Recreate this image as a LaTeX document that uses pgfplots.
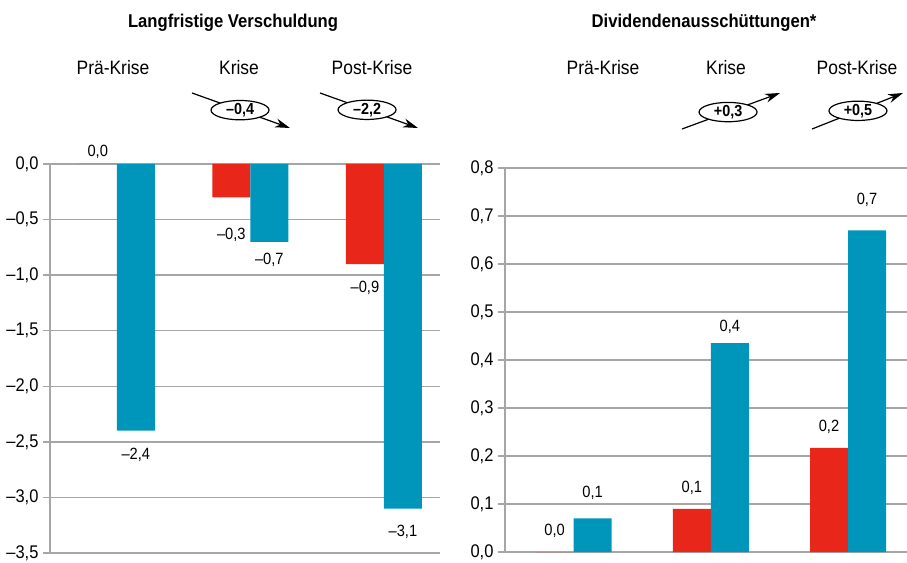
\documentclass[border=0pt]{standalone}
\usepackage{pgfplots}
\pgfplotsset{compat=1.18}
\usepackage{fontspec}
\setmainfont{Liberation Sans}[FakeStretch=0.9]
\usetikzlibrary{arrows.meta,shapes.geometric}
\definecolor{cred}{HTML}{E8261A}
\definecolor{cblue}{HTML}{0095BB}
\definecolor{cgrid}{HTML}{A6A6A6}
\tikzset{lbl/.style={font=\fontsize{16.3}{18}\selectfont, inner sep=0pt}}
\begin{document}
\begin{tikzpicture}
\useasboundingbox (0pt,0pt) rectangle (907pt,562pt);
\pgfplotsset{
 myax/.style={scale only axis, ybar=0pt, bar width=38pt,
  ymajorgrids, grid style={cgrid, line width=1.3pt},
  axis x line=none, axis y line*=left,
  y axis line style={cgrid, line width=1.3pt, -},
  ytick style={cgrid, line width=1.3pt},
  tick align=outside, major tick length=7pt,
  xmin=-0.5, xtick=\empty,
  yticklabel style={font=\fontsize{18.3}{20}\selectfont, xshift=-1pt},
  clip=false}
}
\begin{axis}[myax, at={(50pt,9pt)}, anchor=south west, width=390pt, height=389pt,
  xmax=2.42, ymin=-3.5, ymax=0,
  ytick={-3.5,-3,-2.5,-2,-1.5,-1,-0.5,0},
  yticklabels={{–3,5},{–3,0},{–2,5},{–2,0},{–1,5},{–1,0},{–0,5},{0,0}}]
\addplot[fill=cred, draw=none] coordinates {(0,0) (1,-0.3) (2,-0.9)};
\addplot[fill=cblue, draw=none] coordinates {(0,-2.4) (1,-0.7) (2,-3.1)};
\node[lbl, xshift=-19pt] at (axis cs:0,0.108) {0,0};
\node[lbl, xshift=19pt] at (axis cs:0,-2.62) {–2,4};
\node[lbl, xshift=-19pt] at (axis cs:1,-0.64) {–0,3};
\node[lbl, xshift=19pt] at (axis cs:1,-0.864) {–0,7};
\node[lbl, xshift=-19pt] at (axis cs:2,-1.116) {–0,9};
\node[lbl, xshift=19pt] at (axis cs:2,-3.31) {–3,1};
\end{axis}
\begin{axis}[myax, at={(505pt,10pt)}, anchor=south west, width=402pt, height=384pt,
  xmax=2.43, ymin=0, ymax=0.8,
  ytick={0,0.1,0.2,0.3,0.4,0.5,0.6,0.7,0.8},
  yticklabels={{0,0},{0,1},{0,2},{0,3},{0,4},{0,5},{0,6},{0,7},{0,8}}]
\addplot[fill=cred, draw=none] coordinates {(0,0) (1,0.09) (2,0.217)};
\addplot[fill=cblue, draw=none] coordinates {(0,0.07) (1,0.435) (2,0.67)};
\node[lbl, xshift=-19pt] at (axis cs:0,0.044) {0,0};
\node[lbl, xshift=19pt] at (axis cs:0,0.123) {0,1};
\node[lbl, xshift=-19pt] at (axis cs:1,0.133) {0,1};
\node[lbl, xshift=19pt] at (axis cs:1,0.469) {0,4};
\node[lbl, xshift=-19pt] at (axis cs:2,0.26) {0,2};
\node[lbl, xshift=19pt] at (axis cs:2,0.733) {0,7};
\end{axis}
\begin{scope}[x=1pt,y=1pt]
\tikzset{ttl/.style={font=\bfseries\fontsize{18.5}{20}\selectfont, anchor=base, inner sep=0pt},
 cat/.style={font=\fontsize{19.4}{21}\selectfont, anchor=base, inner sep=0pt},
 arr/.style={line width=1.2pt, -{Stealth[length=15pt,width=9pt]}},
 ell/.style={draw, ellipse, fill=white, line width=1.2pt, minimum width=58pt, minimum height=18pt, inner sep=0pt, font=\bfseries\fontsize{16}{17}\selectfont}}
\node[ttl] at (233,534) {Langfristige Verschuldung};
\node[ttl] at (704,534) {Dividendenausschüttungen*};
\node[cat] at (113,487) {Prä-Krise};
\node[cat] at (239,487) {Krise};
\node[cat] at (372,487) {Post-Krise};
\node[cat] at (603,487) {Prä-Krise};
\node[cat] at (726,487) {Krise};
\node[cat] at (857,487) {Post-Krise};
\draw[arr] (192,469) -- (290,434) node[ell, pos=0.49] {–0,4};
\draw[arr] (320,469) -- (418,434) node[ell, pos=0.48] {–2,2};
\draw[arr] (682,433) -- (780,469) node[ell, pos=0.47] {+0,3};
\draw[arr] (812,433) -- (903,469) node[ell, pos=0.505] {+0,5};
\end{scope}
\end{tikzpicture}
\end{document}
